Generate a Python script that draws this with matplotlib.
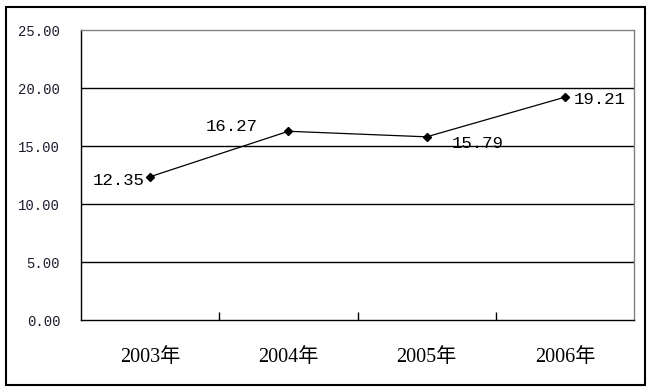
import matplotlib
matplotlib.use("Agg")
import matplotlib.pyplot as plt
from matplotlib.patches import Rectangle

categories = ["2003年", "2004年", "2005年", "2006年"]
values = [12.35, 16.27, 15.79, 19.21]
yticks = [0, 5, 10, 15, 20, 25]
ytick_labels = ["0.00", "5.00", "10.00", "15.00", "20.00", "25.00"]
label_offsets = [(-4, -2.5, "right", "center"), (-22, 3.5, "right", "center"),
                 (18, -4.5, "left", "center"), (6, -2, "left", "center")]

W, H = 653, 391
fig = plt.figure(figsize=(W / 100, H / 100), dpi=100)
ax = fig.add_axes([81 / W, 1 - 320 / H, (634 - 81) / W, (320 - 30) / H])

x = list(range(len(values)))
ax.plot(x, values, color="black", lw=0.9, marker="D", ms=4.5, mfc="black", mec="black")
ax.set_xlim(-0.5, len(values) - 0.5)
ax.set_ylim(0, 25)

for yv in yticks[1:-1]:
    ax.axhline(yv, color="black", lw=1, zorder=0)

ax.set_yticks(yticks)
ax.set_yticklabels(ytick_labels, family=["Liberation Mono", "DejaVu Sans Mono"], fontsize=10, color="#1a1a2e")
ax.tick_params(axis="y", length=0, pad=15)
ax.set_xticks([i + 0.5 for i in x[:-1]], minor=False)
ax.set_xticklabels([])
ax.tick_params(axis="x", direction="in", length=6, width=1)
ax.set_xticks(x, minor=True)
ax.set_xticklabels(categories, minor=True, family=["Liberation Serif", "Noto Sans CJK SC"], fontsize=14.5)
ax.tick_params(axis="x", which="minor", length=0, pad=20)

ax.spines["left"].set_color("black")
ax.spines["bottom"].set_color("black")
ax.spines["top"].set_color("#808080")
ax.spines["right"].set_color("#808080")
for s in ax.spines.values():
    s.set_linewidth(1)

for i, v in enumerate(values):
    dx, dy, ha, va = label_offsets[i]
    ax.annotate(f"{v:.2f}", (i, v), xytext=(dx, dy), textcoords="offset points",
                ha=ha, va=va, fontsize=12.5, family=["Liberation Mono", "DejaVu Sans Mono"])

fig.patches.append(Rectangle((6 / W, 1 - 385 / H), (645 - 6) / W, (385 - 7) / H,
                             transform=fig.transFigure, fill=False, ec="black", lw=1.5))

fig.savefig("out.png", dpi=100)
